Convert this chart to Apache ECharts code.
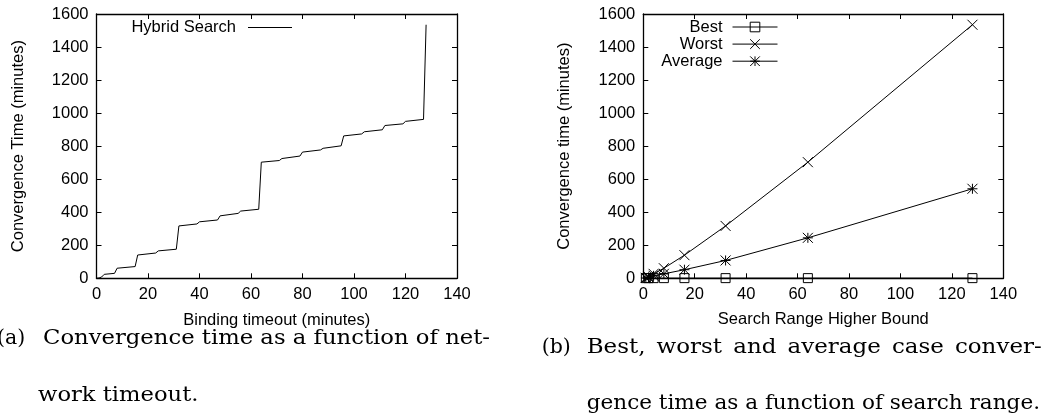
<!DOCTYPE html>
<html>
<head>
<meta charset="utf-8">
<script src="https://cdn.jsdelivr.net/npm/echarts@6/dist/echarts.min.js"></script>
<style>
  html, body { margin: 0; padding: 0; background: #fff; }
  #chart { width: 1045px; height: 415px; }
</style>
</head>
<body>
<div id="chart"></div>
<script>
// (a) Hybrid search: convergence time against binding timeout (minutes)
const timeoutMinutes = [0, 1, 2, 3, 7, 8, 15, 16, 23, 24, 31, 32, 39, 40, 47, 48, 55, 56, 63, 64,
  71, 72, 79, 80, 87, 88, 95, 96, 103, 104, 111, 112, 119, 120, 127, 128];
const hybridConvergence = [0, 2, 8, 24, 30, 61, 71, 141, 153, 166, 176, 317, 329, 342, 353, 378, 393, 407, 418, 703,
  713, 725, 740, 764, 777, 787, 802, 862, 874, 887, 899, 925, 935, 950, 962, 1535];

// (b) Best / worst / average convergence time against the search range higher bound
const searchBounds = [1, 2, 4, 8, 16, 32, 64, 128];
const bestCase = [1, 1, 1, 1, 1, 1, 1, 1];
const worstCase = [3, 10, 27, 61, 140, 317, 703, 1535];
const averageCase = [2, 6, 15, 27, 52, 108, 245, 542];

// Axis ranges shared by both panels
const xRange = { min: 0, max: 140, interval: 20 };
const yRange = { min: 0, max: 1600, interval: 200 };

const sansFont = 'Liberation Sans';
const sansSize = 16.5;
const ink = '#000';

function pairUp(xs, ys) {
  return xs.map((x, i) => [x, ys[i]]);
}

function makeAxis(gridIndex, range, position, name, nameGap) {
  const withLabels = position === 'bottom' || position === 'left';
  const axis = {
    type: 'value',
    gridIndex,
    position,
    min: range.min,
    max: range.max,
    interval: range.interval,
    axisLine: { show: true, onZero: false, lineStyle: { color: ink, width: 1.3 } },
    axisTick: { show: true, inside: true, length: 5, lineStyle: { color: ink, width: 1 } },
    axisLabel: {
      show: withLabels, color: ink, fontFamily: sansFont, fontSize: sansSize, margin: 8,
      formatter: v => String(v)
    },
    splitLine: { show: false }
  };
  if (name) {
    axis.name = name;
    axis.nameLocation = 'middle';
    axis.nameGap = nameGap;
    axis.nameTextStyle = { color: ink, fontFamily: sansFont, fontSize: sansSize };
  }
  return axis;
}

const crossPath = 'path://M0,0L10,10M10,0L0,10';
const starPath = 'path://M0,0L10,10M10,0L0,10M5,0L5,10M0,5L10,5';

const legendText = { color: ink, fontFamily: sansFont, fontSize: sansSize, lineHeight: 14 };

// Captions below each panel: a hanging label, then lines of serif text
const captionFont = '20.5px "DejaVu Serif"';
const captions = [
  { label: '(a)', labelX: -3, lines: [
    { text: 'Convergence time as a function of net-', x: 43, right: 490, y: 339 },
    { text: 'work timeout.', x: 38, right: 198.5, y: 396 }
  ] },
  { label: '(b)', labelX: 541.7, lines: [
    { text: 'Best, worst and average case conver-', x: 586.7, right: 1041.7, y: 347.5, justify: true },
    { text: 'gence time as a function of search range.', x: 586.7, right: 1040, y: 403.5 }
  ] }
];

function buildCaptionGraphics() {
  const ctx = document.createElement('canvas').getContext('2d');
  ctx.font = captionFont;
  const items = [];
  const addText = (text, x, y, sx) => items.push({
    type: 'text', x, y, scaleX: sx || 1, silent: true,
    style: { text, font: captionFont, fill: ink, align: 'left', verticalAlign: 'middle' }
  });
  captions.forEach(c => {
    addText(c.label, c.labelX, c.lines[0].y);
    c.lines.forEach(line => {
      if (!line.justify) {
        // stretch the line horizontally so it fills its measure
        const w = ctx.measureText(line.text).width;
        addText(line.text, line.x, line.y, (line.right - line.x) / w);
        return;
      }
      const words = line.text.split(' ');
      const widths = words.map(w => ctx.measureText(w).width);
      const total = widths.reduce((a, b) => a + b, 0);
      const space = ctx.measureText(' ').width;
      const natural = total + space * (words.length - 1);
      // keep the word shapes at a moderate stretch, spread the rest into the gaps
      const sx = Math.min(1.12, (line.right - line.x) / natural);
      const gap = (line.right - line.x - total * sx) / (words.length - 1);
      let cx = line.x;
      words.forEach((w, i) => { addText(w, cx, line.y, sx); cx += widths[i] * sx + gap; });
    });
  });
  return items;
}

const chart = echarts.init(document.getElementById('chart'), null, { renderer: 'canvas' });

chart.setOption({
  animation: false,
  backgroundColor: '#fff',
  grid: [
    { left: 96.5, top: 14, width: 360.5, height: 264.3 },
    { left: 643.3, top: 14, width: 360, height: 264.3 }
  ],
  xAxis: [
    makeAxis(0, xRange, 'bottom', 'Binding timeout (minutes)', 34),
    makeAxis(0, xRange, 'top'),
    makeAxis(1, xRange, 'bottom', 'Search Range Higher Bound', 33),
    makeAxis(1, xRange, 'top')
  ],
  yAxis: [
    makeAxis(0, yRange, 'left', 'Convergence Time (minutes)', 70),
    makeAxis(0, yRange, 'right'),
    makeAxis(1, yRange, 'left', 'Convergence time (minutes)', 70),
    makeAxis(1, yRange, 'right')
  ],
  legend: [
    {
      data: [{ name: 'Hybrid Search', icon: 'path://M0,0H40V1H0Z' }],
      orient: 'vertical', align: 'right', right: 1045 - 292, top: 19,
      itemWidth: 44, itemHeight: 12, padding: 0, selectedMode: false,
      symbolKeepAspect: true,
      itemStyle: { color: ink, borderWidth: 0 },
      textStyle: Object.assign({ padding: [0, 7, 0, 0] }, legendText)
    },
    {
      data: [
        { name: 'Best', itemStyle: { color: 'rgba(0,0,0,0)', borderColor: ink, borderWidth: 1 }, lineStyle: { color: ink, width: 1 } },
        { name: 'Worst', itemStyle: { color: ink, borderColor: ink, borderWidth: 1 }, lineStyle: { color: ink, width: 1 } },
        { name: 'Average', itemStyle: { color: ink, borderColor: ink, borderWidth: 1 }, lineStyle: { color: ink, width: 1 } }
      ],
      orient: 'vertical', align: 'right', right: 1045 - 778, top: 18.5,
      itemWidth: 45, itemHeight: 12, itemGap: 0.1, padding: 0, selectedMode: false,
      textStyle: Object.assign({ padding: [0, 5, 0, 0] }, legendText)
    }
  ],
  series: [
    {
      name: 'Hybrid Search', type: 'line', xAxisIndex: 0, yAxisIndex: 0,
      data: pairUp(timeoutMinutes, hybridConvergence),
      symbol: 'none', showSymbol: false, color: ink,
      lineStyle: { color: ink, width: 1 }
    },
    {
      name: 'Best', type: 'line', xAxisIndex: 2, yAxisIndex: 2,
      data: pairUp(searchBounds, bestCase),
      symbol: 'rect', symbolSize: 9,
      itemStyle: { color: 'rgba(0,0,0,0)', borderColor: ink, borderWidth: 1 },
      lineStyle: { color: ink, width: 1 }
    },
    {
      name: 'Worst', type: 'line', xAxisIndex: 2, yAxisIndex: 2,
      data: pairUp(searchBounds, worstCase),
      symbol: crossPath, symbolSize: 10, color: ink,
      itemStyle: { color: ink, borderColor: ink, borderWidth: 1 },
      lineStyle: { color: ink, width: 1 }
    },
    {
      name: 'Average', type: 'line', xAxisIndex: 2, yAxisIndex: 2,
      data: pairUp(searchBounds, averageCase),
      symbol: starPath, symbolSize: 10, color: ink,
      itemStyle: { color: ink, borderColor: ink, borderWidth: 1 },
      lineStyle: { color: ink, width: 1 }
    }
  ],
  graphic: buildCaptionGraphics()
});
</script>
</body>
</html>
